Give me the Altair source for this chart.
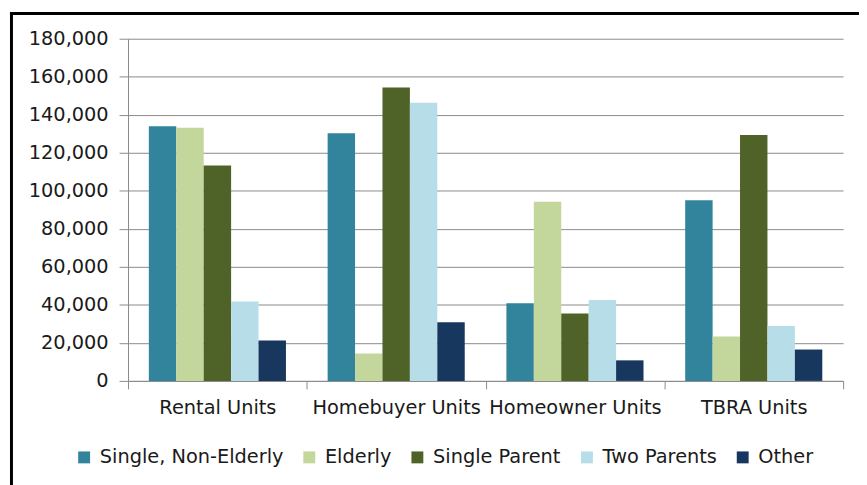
import altair as alt
import pandas as pd

categories = ["Rental Units", "Homebuyer Units", "Homeowner Units", "TBRA Units"]
series = ["Single, Non-Elderly", "Elderly", "Single Parent", "Two Parents", "Other"]
colors = ["#31849B", "#C3D69B", "#4F6228", "#B7DEE8", "#17375E"]

single_non_elderly = [134000, 130300, 40900, 95000]
elderly = [133200, 14400, 94300, 23400]
single_parent = [113300, 154300, 35400, 129300]
two_parents = [41800, 146300, 42500, 28900]
other = [21300, 30900, 10800, 16500]

y_ticks = list(range(0, 180001, 20000))

values = [single_non_elderly, elderly, single_parent, two_parents, other]
rows = []
for s, vals in zip(series, values):
    for c, v in zip(categories, vals):
        rows.append({"Category": c, "Series": s, "Value": v})
df = pd.DataFrame(rows)

FONT = "DejaVu Sans"
FS = 19.5
TXT = "#1a1a1a"
GRID = "#8a8a8a"

bars = alt.Chart(df).mark_bar().encode(
    x=alt.X("Category:N", sort=categories,
            scale=alt.Scale(paddingInner=0, paddingOuter=0),
            axis=alt.Axis(title=None, labelAngle=0, tickBand="extent",
                          tickSize=8, tickColor=GRID, domainColor=GRID,
                          labelFont=FONT, labelFontSize=FS, labelColor=TXT,
                          labelPadding=10, labelLimit=0)),
    xOffset=alt.XOffset("Series:N", sort=series,
                        scale=alt.Scale(paddingInner=0, paddingOuter=0.76)),
    y=alt.Y("Value:Q", scale=alt.Scale(domain=[0, 180000], nice=False),
            axis=alt.Axis(title=None, values=y_ticks, format=",d",
                          tickSize=9, tickColor=GRID, domainColor=GRID,
                          gridColor=GRID, gridWidth=1,
                          labelFont=FONT, labelFontSize=FS, labelColor=TXT,
                          labelPadding=11)),
    color=alt.Color("Series:N", sort=series,
                    scale=alt.Scale(domain=series, range=colors),
                    legend=alt.Legend(title=None, orient="none", direction="horizontal",
                                      columns=5, legendX=-54, legendY=412,
                                      symbolType="square", symbolSize=144,
                                      symbolStrokeWidth=0, labelLimit=0,
                                      labelFont=FONT, labelFontSize=FS,
                                      labelColor=TXT, labelOffset=6,
                                      columnPadding=16)),
)

border_data = alt.Data(values=[{"k": 0}])
top_border = alt.Chart(border_data).mark_rule(color="#000000", strokeWidth=3).encode(
    x=alt.value(-119), x2=alt.value(740), y=alt.value(-25.5)
)
left_border = alt.Chart(border_data).mark_rule(color="#000000", strokeWidth=3).encode(
    x=alt.value(-117.5), y=alt.value(-27), y2=alt.value(450)
)

chart = alt.layer(bars, top_border, left_border).properties(
    width=721,
    height=345,
    autosize=alt.AutoSizeParams(type="none"),
    padding={"left": 121, "top": 29, "right": 16, "bottom": 103},
    background="#ffffff",
).configure_view(stroke=None)

chart.save("out.html", embed_options={"renderer": "svg", "actions": False})
